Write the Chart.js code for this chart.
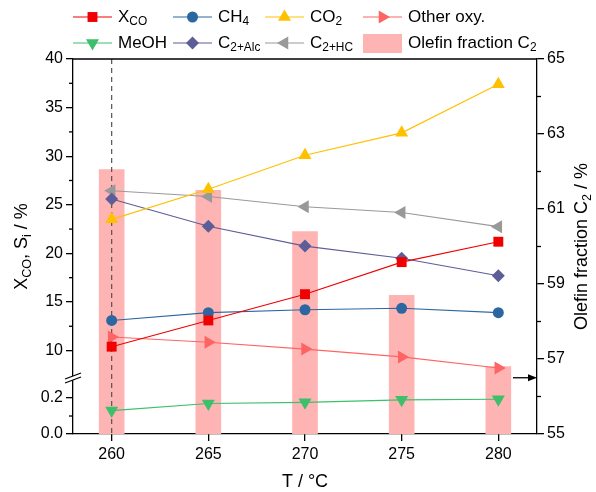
<!DOCTYPE html>
<html>
<head>
<meta charset="utf-8">
<script src="https://cdn.jsdelivr.net/npm/chart.js@4"></script>
<style>
html, body { margin: 0; background: #fff; }
#wrap { width: 596px; height: 492px; }
</style>
</head>
<body>
<div id="wrap"><canvas id="chart"></canvas></div>
<script>
// data
const temps = [260, 265, 270, 275, 280];
const xco = [10.4, 13.1, 15.8, 19.1, 21.2];
const ch4 = [13.1, 13.9, 14.2, 14.35, 13.9];
const co2 = [23.5, 26.6, 30.1, 32.4, 37.4];
const otherOxy = [11.4, 10.85, 10.15, 9.35, 8.2];
const meoh = [0.13, 0.17, 0.176, 0.19, 0.193];
const c2Alc = [25.6, 22.8, 20.75, 19.5, 17.7];
const c2Hc = [26.45, 25.85, 24.8, 24.2, 22.75];
const olefinC2 = [62.05, 61.5, 60.4, 58.7, 56.8];

// tick labels
const xTicks = [260, 265, 270, 275, 280];
const upperTicks = [10, 15, 20, 25, 30, 35, 40];
const upperMinor = [12.5, 17.5, 22.5, 27.5, 32.5, 37.5];
const lowerTicks = [0.0, 0.2];
const lowerMinor = [0.1];
const rightTicks = [55, 57, 59, 61, 63, 65];
const rightMinor = [56, 58, 60, 62, 64];

const FONT = '"Liberation Sans", Arial, sans-serif';

function pts(vals) {
    return temps.map((t, i) => ({ x: t, y: vals[i] }));
}

function lineSet(label, vals, color, style, radius, rot, axis) {
    return {
        type: 'line',
        label: label,
        data: pts(vals),
        yAxisID: axis || 'y',
        borderColor: color,
        backgroundColor: color,
        borderWidth: 1.1,
        pointStyle: style,
        pointRadius: radius,
        pointRotation: rot || 0,
        pointBorderWidth: 0,
        pointBackgroundColor: color,
        tension: 0,
        order: 1
    };
}

// "C_{2+HC}" -> [{t:'C'}, {t:'2+HC', sub:true}]
function parseRich(s) {
    const out = [];
    const re = /_\{([^}]*)\}/g;
    let last = 0, m;
    while ((m = re.exec(s)) !== null) {
        if (m.index > last) out.push({ t: s.slice(last, m.index), sub: false });
        out.push({ t: m[1], sub: true });
        last = re.lastIndex;
    }
    if (last < s.length) out.push({ t: s.slice(last), sub: false });
    return out;
}

function richWidth(ctx, parts, size) {
    let w = 0;
    parts.forEach(p => {
        ctx.font = (p.sub ? size * 0.7 : size) + 'px ' + FONT;
        w += ctx.measureText(p.t).width;
    });
    return w;
}

function drawRich(ctx, s, x, y, size, align) {
    const parts = parseRich(s);
    let cx = x;
    if (align === 'center') cx = x - richWidth(ctx, parts, size) / 2;
    ctx.textBaseline = 'middle';
    ctx.textAlign = 'left';
    parts.forEach(p => {
        const fs = p.sub ? size * 0.7 : size;
        ctx.font = fs + 'px ' + FONT;
        ctx.fillText(p.t, cx, p.sub ? y + size * 0.3 : y);
        cx += ctx.measureText(p.t).width;
    });
}

function drawMarker(ctx, style, r, rot, x, y) {
    ctx.save();
    ctx.translate(x, y);
    ctx.rotate(rot * Math.PI / 180);
    ctx.beginPath();
    if (style === 'circle') {
        ctx.arc(0, 0, r, 0, Math.PI * 2);
    } else if (style === 'rect') {
        const s = Math.SQRT1_2 * r;
        ctx.rect(-s, -s, 2 * s, 2 * s);
    } else if (style === 'rectRot') {
        ctx.moveTo(0, -r); ctx.lineTo(r, 0); ctx.lineTo(0, r); ctx.lineTo(-r, 0);
    } else if (style === 'triangle') {
        for (let k = 0; k < 3; k++) {
            const a = k * 2 * Math.PI / 3;
            ctx.lineTo(Math.sin(a) * r, -Math.cos(a) * r);
        }
    }
    ctx.closePath();
    ctx.fill();
    ctx.restore();
}

const figurePlugin = {
    id: 'figure',
    afterDatasetDraw(chart, args) {
        // dashed guide at 260 °C, above the bars, under the lines
        if (chart.data.datasets[args.index].type !== 'bar') return;
        const ctx = chart.ctx, a = chart.chartArea;
        const x = chart.scales.x.getPixelForValue(260);
        ctx.save();
        ctx.strokeStyle = '#555';
        ctx.lineWidth = 1.2;
        ctx.setLineDash([5, 4]);
        ctx.beginPath();
        ctx.moveTo(x, a.top);
        ctx.lineTo(x, a.bottom);
        ctx.stroke();
        ctx.restore();
    },
    afterDraw(chart) {
        const ctx = chart.ctx, a = chart.chartArea;
        ctx.save();
        ctx.strokeStyle = '#000';
        ctx.fillStyle = '#000';
        ctx.lineWidth = 1.3;

        // top frame line
        ctx.beginPath();
        ctx.moveTo(a.left, a.top);
        ctx.lineTo(a.right, a.top);
        ctx.stroke();

        // minor ticks
        const minor = (scale, vals, side) => {
            vals.forEach(v => {
                const y = scale.getPixelForValue(v);
                const x0 = side === 'left' ? a.left : a.right;
                ctx.beginPath();
                ctx.moveTo(x0, y);
                ctx.lineTo(side === 'left' ? x0 - 4 : x0 + 4, y);
                ctx.stroke();
            });
        };
        minor(chart.scales.y, upperMinor, 'left');
        minor(chart.scales.y2, lowerMinor, 'left');
        minor(chart.scales.yR, rightMinor, 'right');

        // axis break
        const by = chart.scales.y2.top;
        ctx.fillStyle = '#fff';
        ctx.beginPath();
        ctx.moveTo(a.left - 8, by + 2);
        ctx.lineTo(a.left + 8, by - 4);
        ctx.lineTo(a.left + 8, by + 0);
        ctx.lineTo(a.left - 8, by + 6);
        ctx.closePath();
        ctx.fill();
        ctx.beginPath();
        ctx.moveTo(a.left - 8, by + 2);
        ctx.lineTo(a.left + 8, by - 4);
        ctx.moveTo(a.left - 8, by + 6);
        ctx.lineTo(a.left + 8, by + 0);
        ctx.stroke();

        // arrow pointing the bars to the right axis
        ctx.fillStyle = '#000';
        const ay = chart.scales.yR.getPixelForValue(56.5);
        ctx.beginPath();
        ctx.moveTo(a.right - 24, ay);
        ctx.lineTo(a.right - 7, ay);
        ctx.stroke();
        ctx.beginPath();
        ctx.moveTo(a.right, ay);
        ctx.lineTo(a.right - 9, ay - 3.5);
        ctx.lineTo(a.right - 9, ay + 3.5);
        ctx.closePath();
        ctx.fill();

        // axis titles
        ctx.fillStyle = '#000';
        const midY = (a.top + a.bottom) / 2;
        ctx.save();
        ctx.translate(22, midY);
        ctx.rotate(-Math.PI / 2);
        drawRich(ctx, 'X_{CO}, S_{i} / %', 0, 0, 18, 'center');
        ctx.restore();
        ctx.save();
        ctx.translate(582, midY);
        ctx.rotate(-Math.PI / 2);
        drawRich(ctx, 'Olefin fraction C_{2} / %', 0, 0, 18, 'center');
        ctx.restore();
        drawRich(ctx, 'T / °C', (a.left + a.right) / 2, 482, 18, 'center');

        // legend, 2 rows x 4 columns
        const cols = [73, 173, 265, 363];
        const rows = [17, 43];
        chart.data.datasets.forEach((ds, i) => {
            const x = cols[i % 4], y = rows[Math.floor(i / 4)];
            if (ds.type === 'bar') {
                ctx.fillStyle = ds.backgroundColor;
                ctx.fillRect(x, y - 9, 39, 19);
            } else {
                ctx.strokeStyle = ds.borderColor;
                ctx.lineWidth = 1.1;
                ctx.beginPath();
                ctx.moveTo(x, y);
                ctx.lineTo(x + 39, y);
                ctx.stroke();
                ctx.fillStyle = ds.pointBackgroundColor;
                drawMarker(ctx, ds.pointStyle, ds.pointRadius, ds.pointRotation, x + 19.5, y);
            }
            ctx.fillStyle = '#000';
            drawRich(ctx, ds.label, x + 45, y, 17, 'left');
        });
        ctx.restore();
    }
};

const tickFont = { family: FONT, size: 16 };
const axisGrid = { display: true, drawOnChartArea: false, drawTicks: true, tickLength: 7, color: '#000', lineWidth: 1.3, offset: false };
const axisBorder = { display: true, color: '#000', width: 1.3 };

new Chart(document.getElementById('chart'), {
    data: {
        datasets: [
            lineSet('X_{CO}', xco, '#f00000', 'rect', 7, 0),
            lineSet('CH_{4}', ch4, '#2c67a1', 'circle', 5.5, 0),
            lineSet('CO_{2}', co2, '#ffc000', 'triangle', 7.5, 0),
            lineSet('Other oxy.', otherOxy, '#ff6464', 'triangle', 7.5, 90),
            lineSet('MeOH', meoh, '#3dbf6c', 'triangle', 7.5, 180, 'y2'),
            lineSet('C_{2+Alc}', c2Alc, '#5d5d98', 'rectRot', 6.5, 0),
            lineSet('C_{2+HC}', c2Hc, '#999999', 'triangle', 7.5, -90),
            {
                type: 'bar',
                label: 'Olefin fraction C_{2}',
                data: pts(olefinC2),
                yAxisID: 'yR',
                backgroundColor: '#ffb4b4',
                borderWidth: 0,
                barThickness: 25,
                order: 10
            }
        ]
    },
    options: {
        responsive: true,
        maintainAspectRatio: false,
        animation: false,
        layout: { padding: { top: 59, left: 0, right: 0, bottom: 0 } },
        plugins: { legend: { display: false }, tooltip: { enabled: false } },
        scales: {
            x: {
                type: 'linear',
                min: 258,
                max: 282,
                offset: false,
                grid: axisGrid,
                border: axisBorder,
                afterBuildTicks: s => { s.ticks = xTicks.map(v => ({ value: v })); },
                afterFit: s => { s.height = 58; },
                ticks: { font: tickFont, color: '#000', padding: 4, maxRotation: 0 }
            },
            // lower part of the broken left axis (listed first so it sits below)
            y2: {
                type: 'linear',
                position: 'left',
                stack: 'left',
                stackWeight: 57,
                min: 0,
                max: 0.317,
                grid: axisGrid,
                border: axisBorder,
                afterBuildTicks: s => { s.ticks = lowerTicks.map(v => ({ value: v })); },
                afterFit: s => { s.width = 73; },
                ticks: { font: tickFont, color: '#000', padding: 3, callback: v => v.toFixed(1) }
            },
            y: {
                type: 'linear',
                position: 'left',
                stack: 'left',
                stackWeight: 318,
                min: 7.28,
                max: 40,
                grid: axisGrid,
                border: axisBorder,
                afterBuildTicks: s => { s.ticks = upperTicks.map(v => ({ value: v })); },
                afterFit: s => { s.width = 73; },
                ticks: { font: tickFont, color: '#000', padding: 3 }
            },
            yR: {
                type: 'linear',
                position: 'right',
                min: 55,
                max: 65,
                grid: axisGrid,
                border: axisBorder,
                afterBuildTicks: s => { s.ticks = rightTicks.map(v => ({ value: v })); },
                afterFit: s => { s.width = 59; },
                ticks: { font: tickFont, color: '#000', padding: 3 }
            }
        }
    },
    plugins: [figurePlugin]
});
</script>
</body>
</html>
